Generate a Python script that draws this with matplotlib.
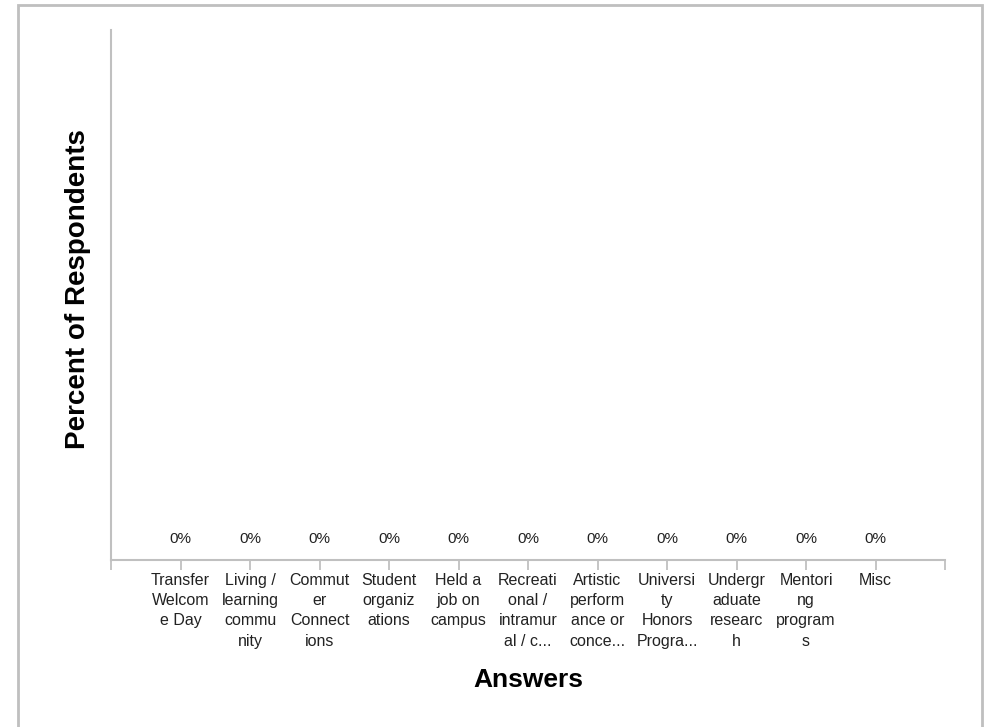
import matplotlib
matplotlib.use("Agg")
import matplotlib.pyplot as plt
from matplotlib.patches import Rectangle

plt.rcParams["font.family"] = ["Liberation Sans", "DejaVu Sans"]

# survey answers (labels wrapped the way the report tool wraps them)
answers = [
    "Transfer\nWelcom\ne Day",
    "Living /\nlearning\ncommu\nnity",
    "Commut\ner\nConnect\nions",
    "Student\norganiz\nations",
    "Held a\njob on\ncampus",
    "Recreati\nonal /\nintramur\nal / c...",
    "Artistic\nperform\nance or\nconce...",
    "Universi\nty\nHonors\nProgra...",
    "Undergr\naduate\nresearc\nh",
    "Mentori\nng\nprogram\ns",
    "Misc",
]
percent = [0, 0, 0, 0, 0, 0, 0, 0, 0, 0, 0]

axis_grey = "#c0c0c0"

fig = plt.figure(figsize=(9.87, 7.27), dpi=100)
ax = fig.add_axes([0.1125, 0.2297, 0.8450, 0.7290])

x = list(range(1, len(answers) + 1))
bars = ax.bar(x, percent, width=0.6, color="#4f81bd")
ax.bar_label(bars, labels=[f"{v:.0f}%" for v in percent], padding=10,
             fontsize=11, color="#222222")

ax.set_xlim(0, len(answers) + 1)
ax.set_ylim(0, 100)

ax.set_xticks(range(0, len(answers) + 2))
ax.set_xticklabels([""] + answers + [""], fontsize=11.5, color="#222222",
                   linespacing=1.45)
ax.tick_params(axis="x", length=7, width=1.3, color=axis_grey, pad=2)
ax.set_yticks([])

for side in ("top", "right"):
    ax.spines[side].set_visible(False)
for side in ("left", "bottom"):
    ax.spines[side].set_color(axis_grey)
    ax.spines[side].set_linewidth(1.5)

ax.set_ylabel("Percent of Respondents", fontsize=20, fontweight="bold",
              va="center")
ax.yaxis.set_label_coords(-0.0396, 0.511)
ax.set_xlabel("Answers", fontsize=19, fontweight="bold", va="center")
ax.xaxis.set_label_coords(0.5, -0.226)

# light frame around the whole chart panel
fig.patches.append(Rectangle((0.018, -0.05), 0.977, 1.043, fill=False,
                             edgecolor="#bfbfbf", linewidth=2,
                             transform=fig.transFigure, figure=fig))

fig.savefig("out.png", dpi=100)
plt.close(fig)
